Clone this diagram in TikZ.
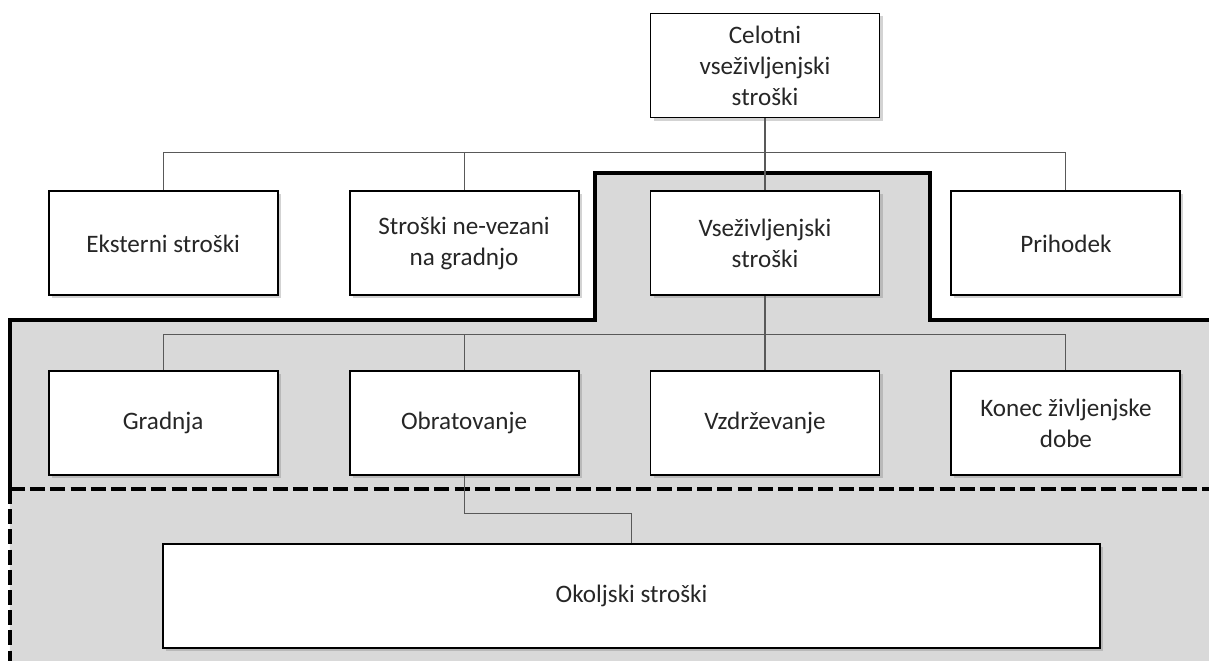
\documentclass[tikz,border=0pt]{standalone}
\usepackage{fontspec}
\setmainfont{Carlito}
\usetikzlibrary{positioning, shadows}

\begin{document}
\begin{tikzpicture}[
cost/.style={rectangle, draw=black, fill=white, line width=1.1pt, text=black!85, minimum width=4.58cm, minimum height=2.08cm, align=center, font=\fontsize{14.3}{17.6}\selectfont, drop shadow={shadow xshift=0.06cm, shadow yshift=-0.06cm, opacity=0.35}},
link/.style={draw=black!65, line width=0.6pt},
frame/.style={line width=2.6pt, black},
node distance=1.4cm
]
\useasboundingbox (0,0) rectangle (24.18,-13.22);

%Background
\fill[black!15] (11.9,-3.46) -- (18.6,-3.46) -- (18.6,-6.4) -- (24.4,-6.4) -- (24.4,-13.4) -- (0.2,-13.4) -- (0.2,-6.4) -- (11.9,-6.4) -- cycle;
\draw[frame] (24.4,-6.4) -- (18.6,-6.4) -- (18.6,-3.46) -- (11.9,-3.46) -- (11.9,-6.4) -- (0.2,-6.4) -- (0.2,-9.78);
\draw[frame, dash pattern=on 8.5pt off 3pt] (0.2,-9.78) -- (24.4,-9.78);
\draw[frame, dash pattern=on 8.5pt off 3pt] (0.2,-9.78) -- (0.2,-13.4);

%Nodes
\node[cost]        (Total)       at (15.3,-1.31)          {Celotni\\vseživljenjski\\stroški};
\node[cost]        (Vse)         [below=1.44cm of Total]  {Vseživljenjski\\stroški};
\node[cost]        (Negr)        [left=of Vse]            {Stroški ne-vezani\\na gradnjo};
\node[cost]        (Ekst)        [left=of Negr]           {Eksterni stroški};
\node[cost]        (Prih)        [right=of Vse]           {Prihodek};

\node[cost]        (Grad)        [below=1.48cm of Ekst]   {Gradnja};
\node[cost]        (Obra)        [below=1.48cm of Negr]   {Obratovanje};
\node[cost]        (Vzdr)        [below=1.48cm of Vse]    {Vzdrževanje};
\node[cost]        (Konec)       [below=1.48cm of Prih]   {Konec življenjske\\dobe};

\node[cost, minimum width=18.74cm] (Okol) at (12.63,-11.92) {Okoljski stroški};

%Lines
\draw[link] (Total.south) -- ++(0,-0.68) -| (Ekst.north);
\draw[link] (Total.south) -- ++(0,-0.68) -| (Negr.north);
\draw[link] (Total.south) -- (Vse.north);
\draw[link] (Total.south) -- ++(0,-0.68) -| (Prih.north);

\draw[link] (Vse.south) -- ++(0,-0.76) -| (Grad.north);
\draw[link] (Vse.south) -- ++(0,-0.76) -| (Obra.north);
\draw[link] (Vse.south) -- (Vzdr.north);
\draw[link] (Vse.south) -- ++(0,-0.76) -| (Konec.north);

\draw[link] (Obra.south) -- ++(0,-0.74) -| (Okol.north);
\end{tikzpicture}
\end{document}
